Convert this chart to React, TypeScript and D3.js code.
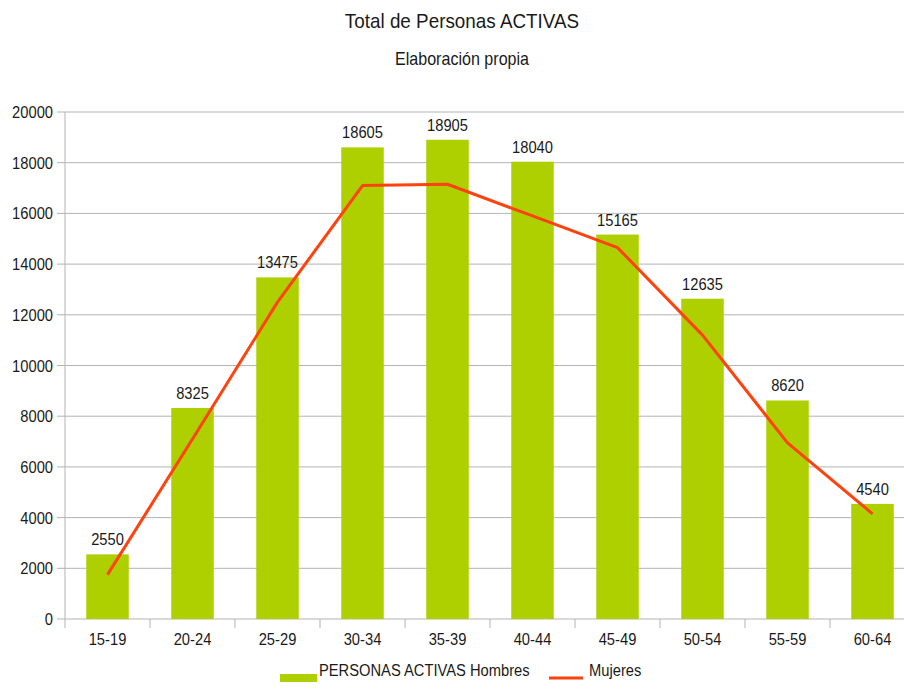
import React from "react";
import * as d3 from "d3";

const categories = ["15-19", "20-24", "25-29", "30-34", "35-39", "40-44", "45-49", "50-54", "55-59", "60-64"];
const hombres = [2550, 8325, 13475, 18605, 18905, 18040, 15165, 12635, 8620, 4540];
const mujeres = [1750, 7100, 12500, 17100, 17150, 15900, 14650, 11200, 6950, 4150];
const yTicks = [0, 2000, 4000, 6000, 8000, 10000, 12000, 14000, 16000, 18000, 20000];
const title = "Total de Personas ACTIVAS";
const subtitle = "Elaboración propia";
const legendBars = "PERSONAS ACTIVAS Hombres";
const legendLine = "Mujeres";

const W = 904;
const H = 689;
const FONT = "'Liberation Sans', Arial, sans-serif";
const SX = 0.92;

function T(props: { x: number; y: number; size: number; anchor?: string; sx?: number; children: React.ReactNode }) {
  const { x, y, size, anchor = "middle", sx = SX, children } = props;
  return (
    <g transform={`translate(${x},${y}) scale(${sx},1)`}>
      <text x={0} y={0} fontSize={size} fontFamily={FONT} textAnchor={anchor} fill="#1a1a1a">
        {children}
      </text>
    </g>
  );
}

export default function App() {
  const x = d3.scaleBand<string>().domain(categories).range([65, 915]).paddingInner(0.5).paddingOuter(0.25);
  const y = d3.scaleLinear().domain([0, 20000]).range([619, 112]);
  const step = x.step();
  const line = d3
    .line<number>()
    .x((_, i) => (x(categories[i]) as number) + x.bandwidth() / 2)
    .y((d) => y(d));
  const grid = "#b3b3b3";
  return (
    <svg width={W} height={H} style={{ position: "absolute", left: 0, top: 0, background: "#fff" }}>
      <rect x={0} y={0} width={W} height={H} fill="#fff" />
      <T x={462} y={28} size={20.5}>{title}</T>
      <T x={462} y={65} size={17.5}>{subtitle}</T>
      {yTicks.map((t) => (
        <g key={t}>
          <line x1={57} x2={915} y1={y(t)} y2={y(t)} stroke={grid} strokeWidth={1} />
          <T x={53} y={y(t) + 6} size={16} anchor="end">{String(t)}</T>
        </g>
      ))}
      <line x1={65} x2={65} y1={112} y2={619} stroke={grid} strokeWidth={1} />
      {categories.map((c, i) => (
        <g key={c}>
          <line x1={65 + step * i} x2={65 + step * i} y1={619} y2={628} stroke={grid} strokeWidth={1} />
          <T x={(x(c) as number) + x.bandwidth() / 2} y={645} size={16}>{c}</T>
        </g>
      ))}
      {categories.map((c, i) => (
        <rect key={c} x={x(c)} y={y(hombres[i])} width={x.bandwidth()} height={y(0) - y(hombres[i])} fill="#aecf00" />
      ))}
      {categories.map((c, i) => (
        <T key={c} x={(x(c) as number) + x.bandwidth() / 2} y={y(hombres[i]) - 9} size={16}>{String(hombres[i])}</T>
      ))}
      <path d={line(mujeres) || ""} fill="none" stroke="#ff420e" strokeWidth={3} strokeLinejoin="round" />
      <rect x={280} y={674} width={37} height={8} fill="#aecf00" />
      <T x={319} y={676} size={16} anchor="start">{legendBars}</T>
      <line x1={549} x2={583} y1={678} y2={678} stroke="#ff420e" strokeWidth={3} />
      <T x={589} y={676} size={16} anchor="start">{legendLine}</T>
    </svg>
  );
}
